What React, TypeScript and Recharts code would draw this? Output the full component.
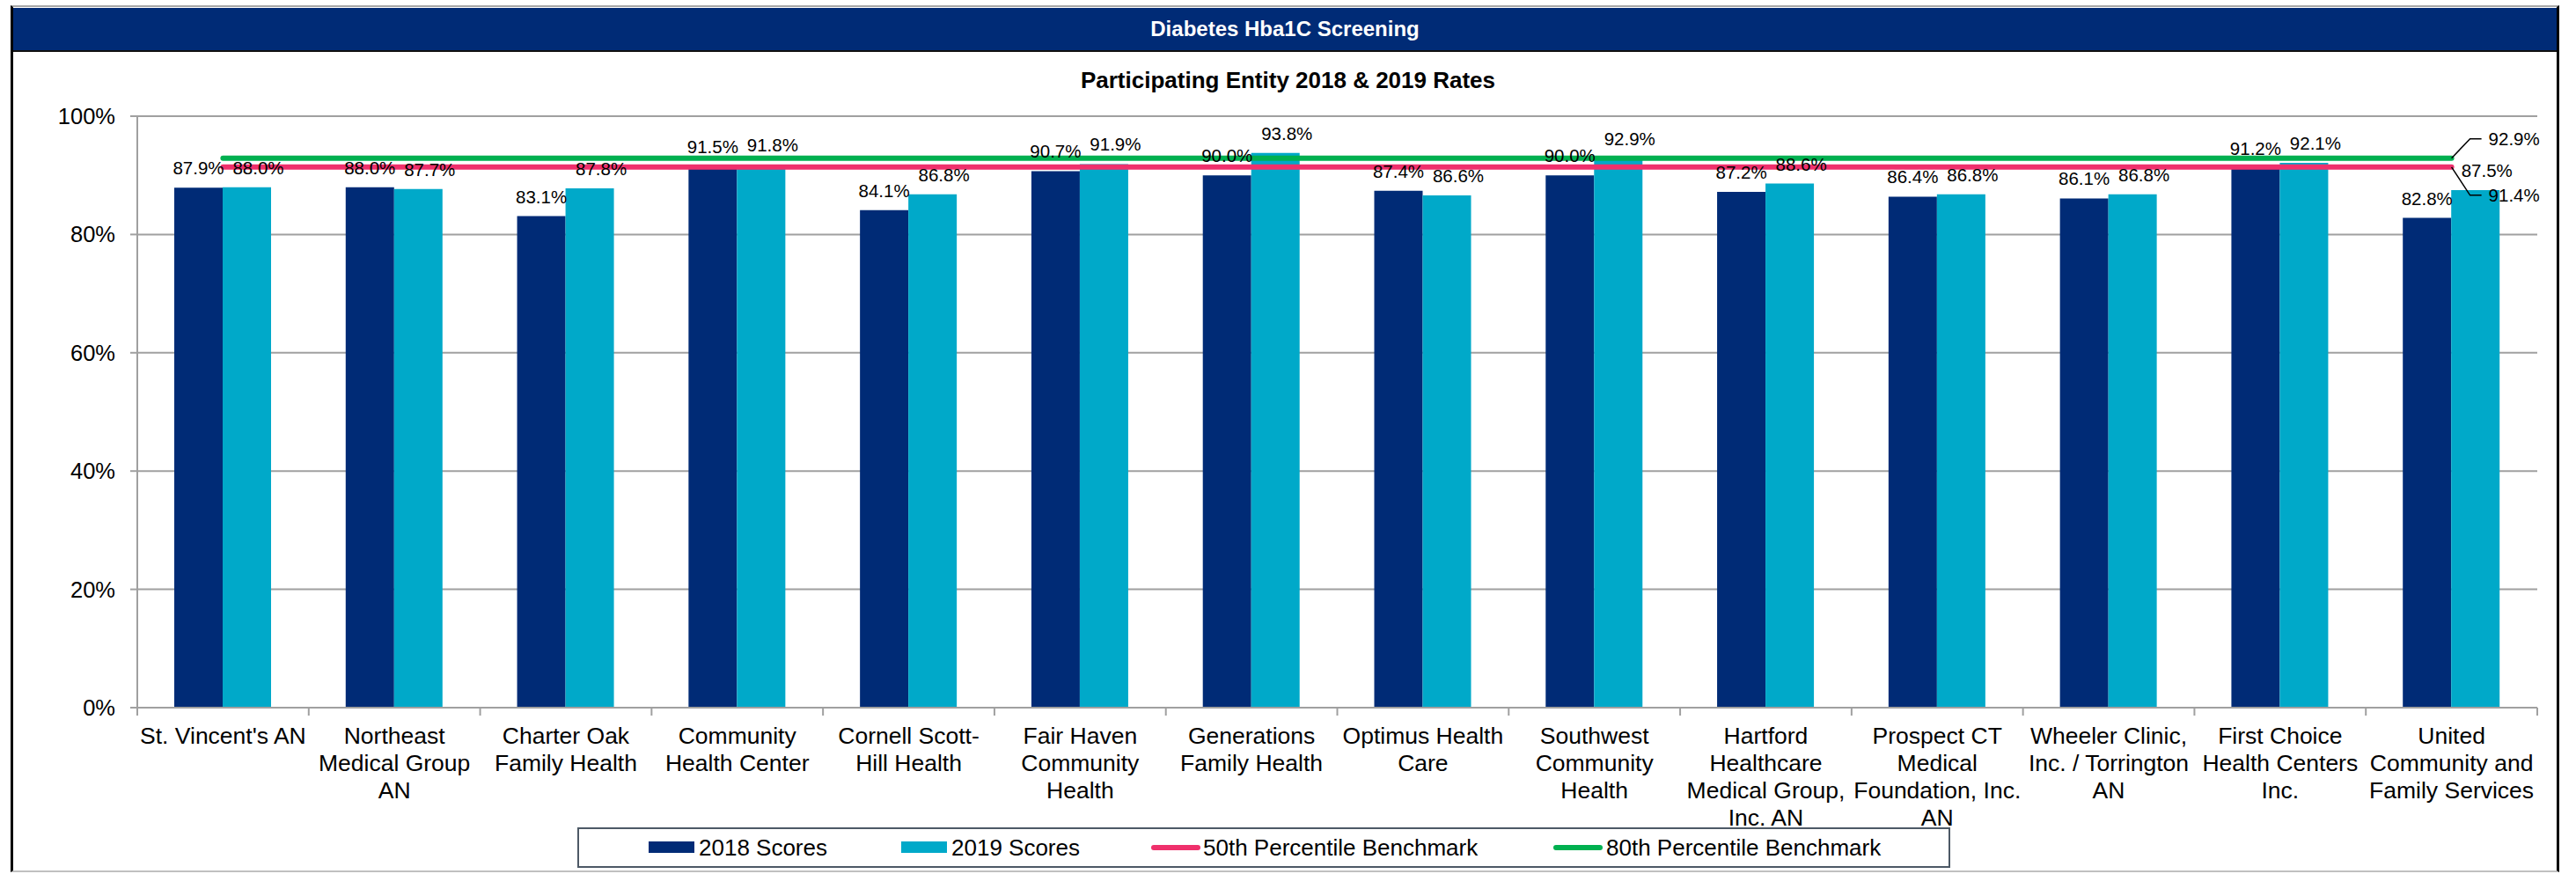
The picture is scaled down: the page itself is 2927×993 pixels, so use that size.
import { ComposedChart, Bar, Line, XAxis, YAxis, CartesianGrid, LabelList } from "recharts";

const entities = [
  "St. Vincent's AN",
  "Northeast\nMedical Group\nAN",
  "Charter Oak\nFamily Health",
  "Community\nHealth Center",
  "Cornell Scott-\nHill Health",
  "Fair Haven\nCommunity\nHealth",
  "Generations\nFamily Health",
  "Optimus Health\nCare",
  "Southwest\nCommunity\nHealth",
  "Hartford\nHealthcare\nMedical Group,\nInc. AN",
  "Prospect CT\nMedical\nFoundation, Inc.\nAN",
  "Wheeler Clinic,\nInc. / Torrington\nAN",
  "First Choice\nHealth Centers\nInc.",
  "United\nCommunity and\nFamily Services",
];

const scores2018 = [87.9, 88.0, 83.1, 91.5, 84.1, 90.7, 90.0, 87.4, 90.0, 87.2, 86.4, 86.1, 91.2, 82.8];
const scores2019 = [88.0, 87.7, 87.8, 91.8, 86.8, 91.9, 93.8, 86.6, 92.9, 88.6, 86.8, 86.8, 92.1, 87.5];
const bench50 = [91.4, 91.4, 91.4, 91.4, 91.4, 91.4, 91.4, 91.4, 91.4, 91.4, 91.4, 91.4, 91.4, 91.4];
const bench80 = [92.9, 92.9, 92.9, 92.9, 92.9, 92.9, 92.9, 92.9, 92.9, 92.9, 92.9, 92.9, 92.9, 92.9];
const yTicks = [0, 20, 40, 60, 80, 100];

const NAVY = "#002B76";
const TEAL = "#00A9C9";
const PINK = "#EF306C";
const GREEN = "#00B050";
const FONT = "'Liberation Sans', Arial, sans-serif";
const BAND = (2883 - 156) / 14;

const chartData = entities.map((name, i) => ({
  name,
  s2018: scores2018[i],
  s2019: scores2019[i],
  p50: bench50[i],
  p80: bench80[i],
}));

const pct = (v: any) => `${Number(v).toFixed(1)}%`;

const EntityTick = ({ x, y, payload, index }: any) => {
  const lines = String(payload.value).split("\n");
  const left = x - BAND / 2;
  return (
    <g>
      <line x1={left} x2={left} y1={y - 10} y2={y - 1} stroke="#A0A0A0" strokeWidth={2} />
      {index === entities.length - 1 && (
        <line x1={x + BAND / 2} x2={x + BAND / 2} y1={y - 10} y2={y - 1} stroke="#A0A0A0" strokeWidth={2} />
      )}
      <text x={x} y={y} textAnchor="middle" fontSize={26.5} fontFamily={FONT} fill="#000">
        {lines.map((l, i) => (
          <tspan key={i} x={x} dy={31}>
            {l}
          </tspan>
        ))}
      </text>
    </g>
  );
};

// value label above a bar; the 2019 labels sit a little to the right like in the source
const barLabel = (dx: number) => (props: any) => {
  const { x, y, width, value } = props;
  return (
    <text x={x + width / 2 + dx} y={y - 15} textAnchor="middle" fontSize={20.5} fontFamily={FONT} fill="#000">
      {pct(value)}
    </text>
  );
};

// leader-line label at the right end of a benchmark line
const endLabel = (shift: number) => (props: any) => {
  const { x, y, index, value } = props;
  if (index !== entities.length - 1) return null;
  const ty = y + shift;
  return (
    <g>
      <polyline
        points={`${x},${y} ${x + 21},${ty} ${x + 34},${ty}`}
        fill="none"
        stroke="#000"
        strokeWidth={1.5}
      />
      <text x={x + 42} y={ty} dominantBaseline="central" fontSize={20.5} fontFamily={FONT} fill="#000">
        {pct(value)}
      </text>
    </g>
  );
};

const LegendBox = () => (
  <div
    style={{
      position: "absolute",
      left: 656,
      top: 940,
      width: 1556,
      height: 42,
      border: "2px solid #4D5966",
      background: "#fff",
      fontFamily: FONT,
      fontSize: 26,
    }}
  >
    {[
      { label: "2018 Scores", color: NAVY, kind: "box", sx: 737, tx: 794 },
      { label: "2019 Scores", color: TEAL, kind: "box", sx: 1024, tx: 1081 },
      { label: "50th Percentile Benchmark", color: PINK, kind: "line", sx: 1308, tx: 1367 },
      { label: "80th Percentile Benchmark", color: GREEN, kind: "line", sx: 1765, tx: 1825 },
    ].map((it) => (
      <div key={it.label}>
        <div
          style={{
            position: "absolute",
            left: it.sx - 658,
            top: it.kind === "box" ? 14 : 18,
            width: it.kind === "box" ? 52 : 56,
            height: it.kind === "box" ? 13 : 6,
            borderRadius: it.kind === "box" ? 0 : 3,
            background: it.color,
          }}
        />
        <div style={{ position: "absolute", left: it.tx - 658, top: 4, lineHeight: "34px", whiteSpace: "nowrap" }}>
          {it.label}
        </div>
      </div>
    ))}
  </div>
);

export default function App() {
  return (
    <div style={{ position: "absolute", left: 0, top: 0, width: 2927, height: 993, background: "#fff", fontFamily: FONT }}>
      <div
        style={{
          position: "absolute",
          left: 12,
          top: 6,
          width: 2890,
          height: 981,
          borderTop: "2px solid #A8A8A8",
          borderLeft: "3px solid #000",
          borderRight: "3px solid #000",
          borderBottom: "2px solid #C0C0C0",
        }}
      />
      <div
        style={{
          position: "absolute",
          left: 15,
          top: 9,
          width: 2890,
          height: 48,
          background: NAVY,
          borderBottom: "2px solid #111",
          color: "#fff",
          fontWeight: "bold",
          fontSize: 24,
          textAlign: "center",
          lineHeight: "48px",
        }}
      >
        Diabetes Hba1C Screening
      </div>
      <div
        style={{
          position: "absolute",
          left: 0,
          top: 76,
          width: 2927,
          textAlign: "center",
          fontWeight: "bold",
          fontSize: 26,
          lineHeight: "30px",
        }}
      >
        Participating Entity 2018 &amp; 2019 Rates
      </div>
      <div style={{ position: "absolute", left: 0, top: 0 }}>
        <ComposedChart
          width={2927}
          height={993}
          data={chartData}
          margin={{ top: 132, right: 44, left: 0, bottom: 59 }}
          barGap={0}
          style={{ fontFamily: FONT }}
        >
          <CartesianGrid vertical={false} stroke="#A0A0A0" strokeWidth={2} />
          <XAxis
            dataKey="name"
            height={130}
            interval={0}
            tickLine={false}
            tickSize={8}
            tickMargin={2}
            axisLine={{ stroke: "#A0A0A0", strokeWidth: 2 }}
            tick={<EntityTick />}
          />
          <XAxis dataKey="name" xAxisId="labels" hide />
          <YAxis
            width={156}
            domain={[0, 100]}
            ticks={yTicks}
            tickFormatter={(v) => `${v}%`}
            tick={{ fill: "#000", fontSize: 25.5, fontFamily: FONT }}
            tickSize={8}
            tickMargin={17}
            tickLine={{ stroke: "#A0A0A0", strokeWidth: 2 }}
            axisLine={{ stroke: "#A0A0A0", strokeWidth: 2 }}
          />
          <Bar dataKey="s2018" name="2018 Scores" fill={NAVY} barSize={55} isAnimationActive={false} />
          <Bar dataKey="s2019" name="2019 Scores" fill={TEAL} barSize={55} isAnimationActive={false} />
          <Line
            dataKey="p50"
            name="50th Percentile Benchmark"
            stroke={PINK}
            strokeWidth={6}
            strokeLinecap="round"
            dot={false}
            isAnimationActive={false}
          >
            <LabelList dataKey="p50" content={endLabel(32)} />
          </Line>
          <Line
            dataKey="p80"
            name="80th Percentile Benchmark"
            stroke={GREEN}
            strokeWidth={6}
            strokeLinecap="round"
            dot={false}
            isAnimationActive={false}
          >
            <LabelList dataKey="p80" content={endLabel(-22)} />
          </Line>
          {/* transparent copies of the bars so the value labels sit above the benchmark lines */}
          <Bar dataKey="s2018" xAxisId="labels" fill="none" barSize={55} isAnimationActive={false} legendType="none">
            <LabelList dataKey="s2018" content={barLabel(0)} />
          </Bar>
          <Bar dataKey="s2019" xAxisId="labels" fill="none" barSize={55} isAnimationActive={false} legendType="none">
            <LabelList dataKey="s2019" content={barLabel(13)} />
          </Bar>
        </ComposedChart>
      </div>
      <LegendBox />
    </div>
  );
}
